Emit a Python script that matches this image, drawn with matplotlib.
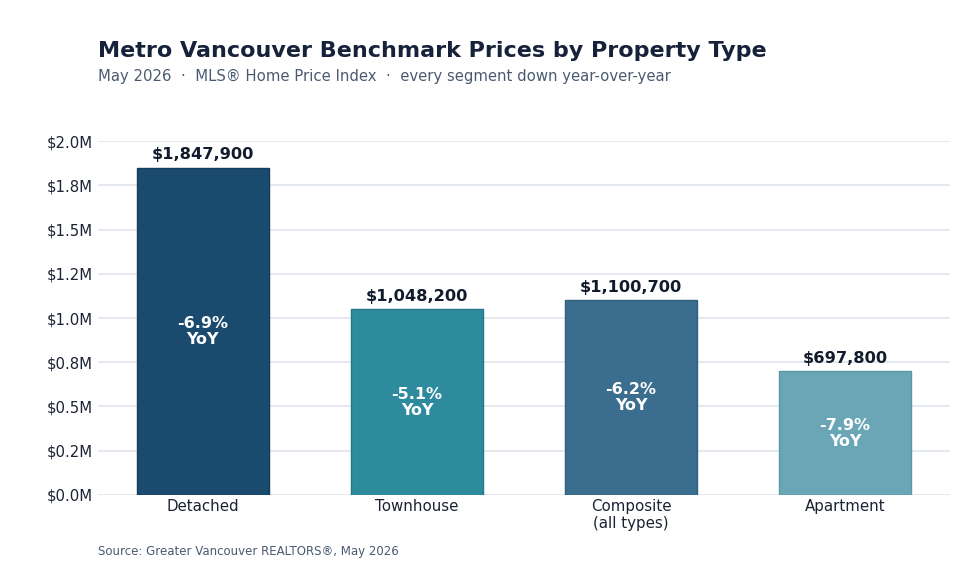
import matplotlib
matplotlib.use("Agg")
import matplotlib.pyplot as plt
from matplotlib.ticker import FuncFormatter

categories = ["Detached", "Townhouse", "Composite\n(all types)", "Apartment"]
prices = [1847900, 1048200, 1100700, 697800]
yoy = [-6.9, -5.1, -6.2, -7.9]
colors = ["#1a4a6e", "#2e8b9d", "#3b6e8e", "#6aa6b6"]
edges = ["#143d5c", "#22788a", "#2f5f7d", "#5a98a8"]
yticks = [0, 250000, 500000, 750000, 1000000, 1250000, 1500000, 1750000, 2000000]

plt.rcParams['font.family'] = ['DejaVu Sans']
fig = plt.figure(figsize=(9.8, 5.7), dpi=100)
ax = fig.add_axes([0.1, 0.1316, 0.8694, 0.621])

x = list(range(len(categories)))
bars = ax.bar(x, prices, width=0.62, color=colors, edgecolor=edges, linewidth=1, zorder=3)

for xi, p, y in zip(x, prices, yoy):
    ax.annotate(f"${p:,.0f}", (xi, p), xytext=(0, 4), textcoords="offset points",
                ha="center", va="bottom", fontsize=11.7, fontweight="bold", color="#111b2b")
    ax.text(xi, p / 2, f"{y:.1f}%\nYoY", ha="center", va="center", fontsize=11.5,
            fontweight="bold", color="white", linespacing=1.12, zorder=4)

ax.set_xlim(-0.49, 3.49)
ax.set_ylim(0, 2000000)
ax.set_yticks(yticks)
ax.yaxis.set_major_formatter(FuncFormatter(lambda v, _: f"${v/1e6:.1f}M"))
ax.set_xticks(x)
ax.set_xticklabels(categories, fontsize=10.8, color="#1a2233", linespacing=1.15)
ax.tick_params(axis="y", labelsize=10.7, colors="#1a2233", length=0, pad=4)
ax.tick_params(axis="x", length=0, pad=3)
ax.grid(axis="y", color="#e2e7ee", linewidth=1.3, zorder=0)
for s in ax.spines.values():
    s.set_visible(False)

fig.text(0.1, 0.9, "Metro Vancouver Benchmark Prices by Property Type", fontsize=16,
         fontweight="bold", color="#16213a", ha="left", va="baseline")
fig.text(0.1, 0.858, "May 2026  \u00b7  MLS\u00ae Home Price Index  \u00b7  every segment down year-over-year",
         fontsize=10.7, color="#4a5a70", ha="left", va="baseline")
fig.text(0.1, 0.026, "Source: Greater Vancouver REALTORS\u00ae, May 2026", fontsize=8.5,
         color="#4a5a70", ha="left", va="baseline")

fig.savefig("out.png", dpi=100, facecolor="white")
